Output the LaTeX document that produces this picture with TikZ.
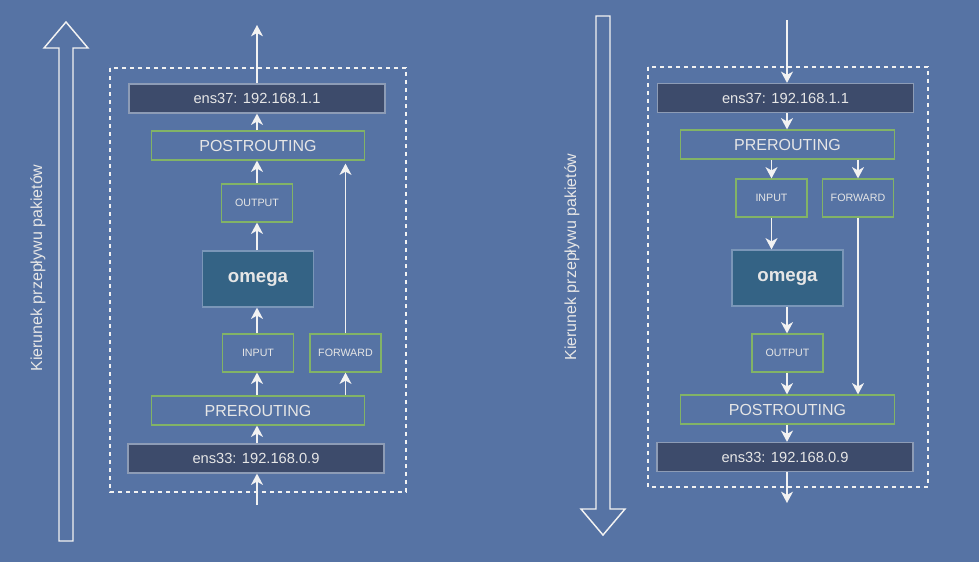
\documentclass[tikz,border=0pt]{standalone}
\usepackage{fontspec}
\setmainfont{Liberation Sans}
\usetikzlibrary{arrows.meta}

\begin{document}
\begin{tikzpicture}[x=0.75pt, y=-0.75pt,
    ifaceBox/.style={draw=ifaceBorder, fill=ifaceFill, line width=0.9pt, minimum width=192pt, minimum height=21.75pt, inner sep=0pt, text=textColour, font=\fontsize{11}{13}\selectfont},
    chainBox/.style={draw=chainBorder, line width=0.9pt, minimum width=160pt, minimum height=21.75pt, inner sep=0pt, text=textColour, font=\fontsize{12}{14}\selectfont},
    hookBox/.style={draw=chainBorder, line width=0.9pt, minimum width=53.25pt, minimum height=28.5pt, inner sep=0pt, text=textColour, font=\fontsize{8}{10}\selectfont},
    procBox/.style={draw=procBorder, fill=procFill, line width=0.9pt, minimum width=83.25pt, minimum height=42pt, inner sep=0pt, text=textColour, font=\fontsize{14}{16}\selectfont\bfseries},
    flow/.style={draw=arrowColour, line width=1.1pt, -{Stealth[length=8.5pt, width=9pt, inset=2.5pt]}},
    bigArrow/.style={draw=arrowColour, line width=1.1pt, line join=miter},
    frameBox/.style={draw=arrowColour, line width=0.9pt, dash pattern=on 3pt off 3pt},
    dirLabel/.style={rotate=90, text=textColour, font=\fontsize{12}{14}\selectfont, inner sep=0pt}]

    % Define colours
    \definecolor{bgColour}{HTML}{5673A4}
    \definecolor{ifaceFill}{HTML}{3D4B6B}
    \definecolor{ifaceBorder}{HTML}{8D9CB6}
    \definecolor{procFill}{HTML}{346385}
    \definecolor{procBorder}{HTML}{7A96B8}
    \definecolor{chainBorder}{HTML}{82B366}
    \definecolor{textColour}{HTML}{E6E6E6}
    \definecolor{arrowColour}{HTML}{F2F2F2}

    % Background
    \fill[bgColour] (0,0) rectangle (979,562);
    \useasboundingbox (0,0) rectangle (979,562);

    % Big direction arrows
    \draw[bigArrow] (59,541) -- (59,48) -- (44,48) -- (66,22) -- (88,48) -- (73,48) -- (73,541) -- cycle;
    \draw[bigArrow] (596,16) -- (610,16) -- (610,509) -- (625,509) -- (603,535) -- (581,509) -- (596,509) -- cycle;
    \node[dirLabel] (lLabel) at (38,268) {Kierunek przepływu pakietów};
    \node[dirLabel] (rLabel) at (572,257) {Kierunek przepływu pakietów};

    % Dashed frames
    \draw[frameBox] (110,68) rectangle (406,492);
    \draw[frameBox] (648,67) rectangle (928,487);

    % Left diagram (outgoing)
    \node[ifaceBox] (lEns37) at (257,98.5) {ens37: 192.168.1.1};
    \node[chainBox] (lPost) at (258,145.5) {POSTROUTING};
    \node[hookBox] (lOutput) at (257,203) {OUTPUT};
    \node[procBox] (lOmega) at (258,279) {omega};
    \node[hookBox] (lInput) at (258,353) {INPUT};
    \node[hookBox] (lForward) at (345.5,353) {FORWARD};
    \node[chainBox] (lPre) at (258,410.5) {PREROUTING};
    \node[ifaceBox] (lEns33) at (256,458.5) {ens33: 192.168.0.9};
    \coordinate (lIn) at (257,505);
    \coordinate (lOut) at (257,25);

    \draw[flow] (lIn) -- (lIn |- lEns33.south);
    \draw[flow] (lEns33.north -| lIn) -- (lPre.south -| lIn);
    \draw[flow] (lPre.north -| lIn) -- (lInput.south -| lIn);
    \draw[flow] (lInput.north -| lIn) -- (lOmega.south -| lIn);
    \draw[flow] (lOmega.north -| lIn) -- (lOutput.south -| lIn);
    \draw[flow] (lOutput.north -| lIn) -- (lPost.south -| lIn);
    \draw[flow] (lPost.north -| lIn) -- (lEns37.south -| lIn);
    \draw[flow] (lEns37.north -| lIn) -- (lOut);
    \draw[flow] (lPre.north -| lForward) -- (lForward.south);
    \draw[flow, shorten >=2.25pt] (lForward.north) -- (lPost.south -| lForward);

    % Right diagram (incoming)
    \node[ifaceBox] (rEns37) at (785.5,98) {ens37: 192.168.1.1};
    \node[chainBox] (rPre) at (787.5,144.5) {PREROUTING};
    \node[hookBox] (rInput) at (771.5,198) {INPUT};
    \node[hookBox] (rForward) at (858,198) {FORWARD};
    \node[procBox] (rOmega) at (787.5,278) {omega};
    \node[hookBox] (rOutput) at (787.5,353) {OUTPUT};
    \node[chainBox] (rPost) at (787.5,409.5) {POSTROUTING};
    \node[ifaceBox] (rEns33) at (785,457) {ens33: 192.168.0.9};
    \coordinate (rIn) at (787,20);
    \coordinate (rOut) at (787,503);

    \draw[flow] (rIn) -- (rIn |- rEns37.north);
    \draw[flow] (rEns37.south -| rIn) -- (rPre.north -| rIn);
    \draw[flow] (rPre.south -| rInput) -- (rInput.north);
    \draw[flow] (rPre.south -| rForward) -- (rForward.north);
    \draw[flow] (rInput.south) -- (rOmega.north -| rInput);
    \draw[flow] (rOmega.south -| rIn) -- (rOutput.north -| rIn);
    \draw[flow] (rOutput.south -| rIn) -- (rPost.north -| rIn);
    \draw[flow] (rForward.south) -- (rPost.north -| rForward);
    \draw[flow] (rPost.south -| rIn) -- (rEns33.north -| rIn);
    \draw[flow] (rEns33.south -| rIn) -- (rOut);

\end{tikzpicture}
\end{document}
